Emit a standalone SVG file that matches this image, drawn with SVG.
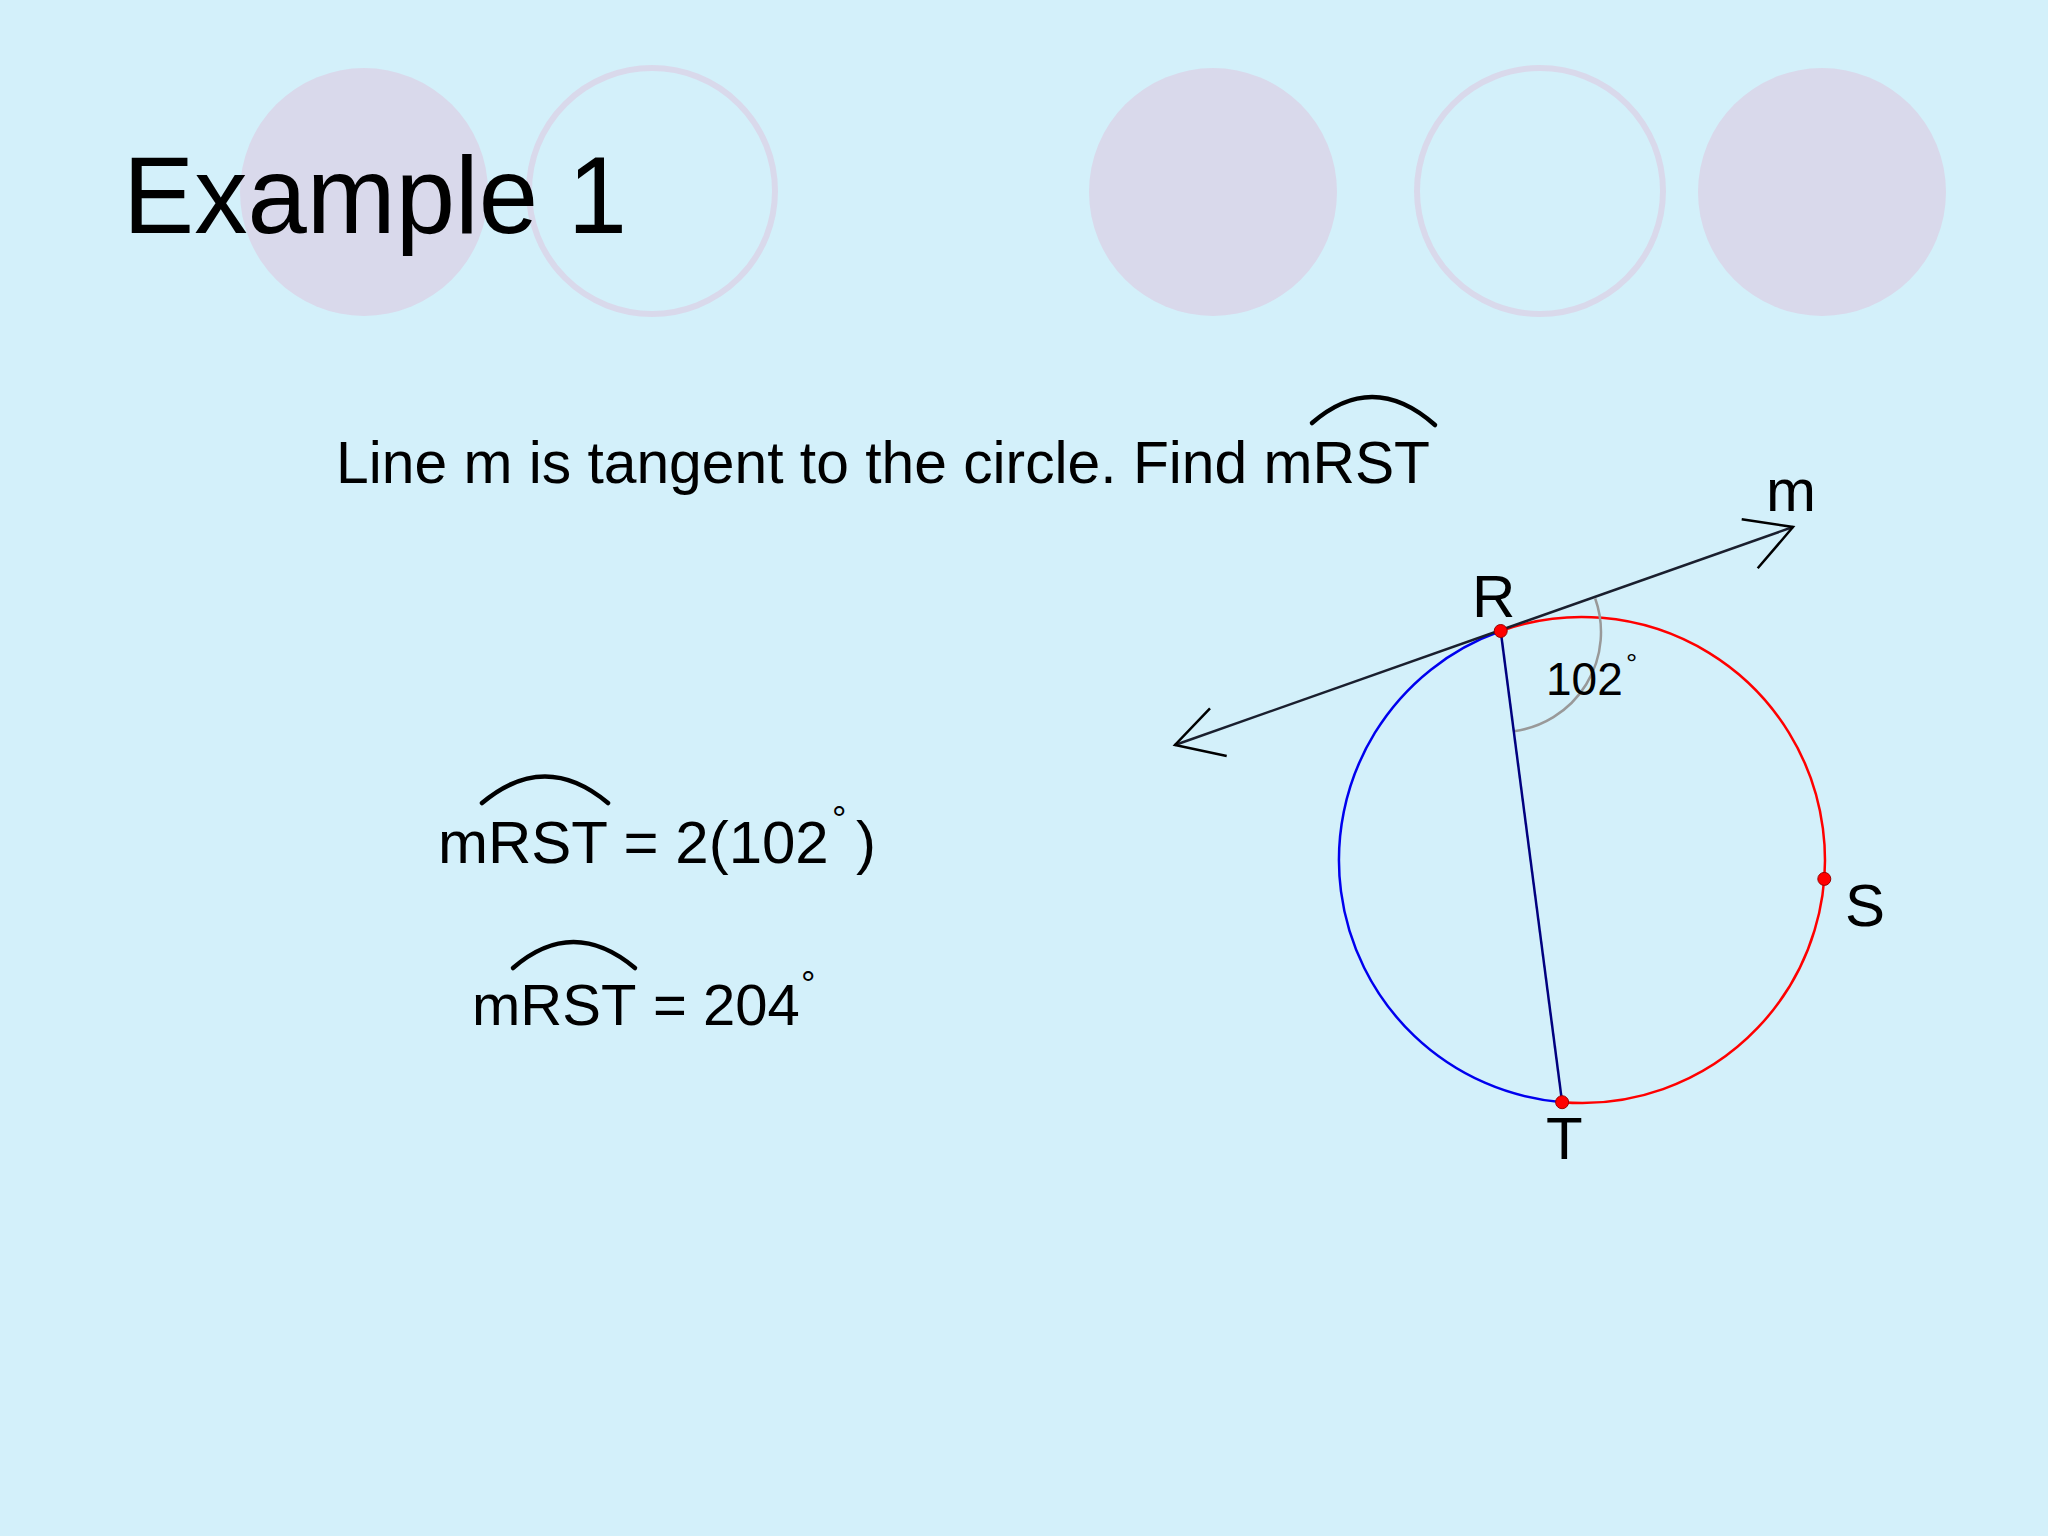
<svg xmlns="http://www.w3.org/2000/svg" width="2048" height="1536" viewBox="0 0 2048 1536">
<style>
.t{font-family:"Liberation Sans",Arial,sans-serif;fill:#000}
.deco{fill:#D9D9EB}
.ring{fill:none;stroke:#D9D9EB;stroke-width:6}
.over{fill:none;stroke:#000;stroke-width:4.5;stroke-linecap:round}
.pt{fill:#FF0000;stroke:#990000;stroke-width:1}
</style>
<rect width="2048" height="1536" fill="#D3F0FA"/>
<g id="decoration">
<circle class="deco" cx="364" cy="192" r="124"/>
<circle class="ring" cx="652" cy="191" r="123"/>
<circle class="deco" cx="1213" cy="192" r="124"/>
<circle class="ring" cx="1540" cy="191" r="123"/>
<circle class="deco" cx="1822" cy="192" r="124"/>
</g>
<g id="title"><text class="t" x="123" y="233" font-size="109" textLength="504" lengthAdjust="spacingAndGlyphs">Example 1</text></g>
<g id="question">
<text class="t" x="336" y="483" font-size="60" textLength="1094" lengthAdjust="spacingAndGlyphs">Line m is tangent to the circle. Find mRST</text>
<path class="over" d="M1312,423 Q1373,370 1435,425"/>
</g>
<g id="eq1">
<text class="t" x="438" y="863" font-size="60">mRST = 2(102</text>
<text class="t" x="832" y="832" font-size="36">°</text>
<text class="t" x="856" y="863" font-size="60">)</text>
<path class="over" d="M482,803 Q545,750 608,803"/>
</g>
<g id="eq2">
<text class="t" y="1025" font-size="58"><tspan x="472">mRST</tspan><tspan x="653">=</tspan><tspan x="703">204</tspan></text>
<text class="t" x="801" y="997" font-size="36">°</text>
<path class="over" d="M513,968 Q573,916 635,968"/>
</g>
<g id="connectors">
<path d="M1500.7,631 A243,243 0 0 0 1562.1,1102.2" fill="none" stroke="#0000EE" stroke-width="2.5"/>
<path d="M1500.7,631 A243,243 0 1 1 1562.1,1102.2" fill="none" stroke="#FF0000" stroke-width="2.5"/>
<path d="M1595.2,598.5 A100,100 0 0 1 1513.9,731.2" fill="none" stroke="#999999" stroke-width="2.5"/>
<line x1="1500.7" y1="631" x2="1562.1" y2="1102.2" stroke="#00007F" stroke-width="2.5"/>
<line x1="1175" y1="745" x2="1793" y2="527" stroke="#1a1f2e" stroke-width="2.5"/>
<path d="M1741.7,519.3 L1793,527 L1757.7,568.3" fill="none" stroke="#000" stroke-width="2.5"/>
<path d="M1210,708.3 L1175,745 L1226.7,756" fill="none" stroke="#000" stroke-width="2.5"/>
</g>
<g id="point-R"><circle class="pt" cx="1500.7" cy="631" r="6.5"/><text class="t" x="1472" y="617" font-size="60">R</text></g>
<g id="point-S"><circle class="pt" cx="1824.3" cy="878.9" r="6.5"/><text class="t" x="1845" y="926" font-size="60">S</text></g>
<g id="point-T"><circle class="pt" cx="1562.1" cy="1102.2" r="6.5"/><text class="t" x="1546" y="1159" font-size="60">T</text></g>
<g id="line-m"><text class="t" x="1766" y="511" font-size="60">m</text></g>
<g id="angle"><text class="t" x="1546" y="695" font-size="46">102</text><text class="t" x="1626" y="673" font-size="28">°</text></g>
</svg>
